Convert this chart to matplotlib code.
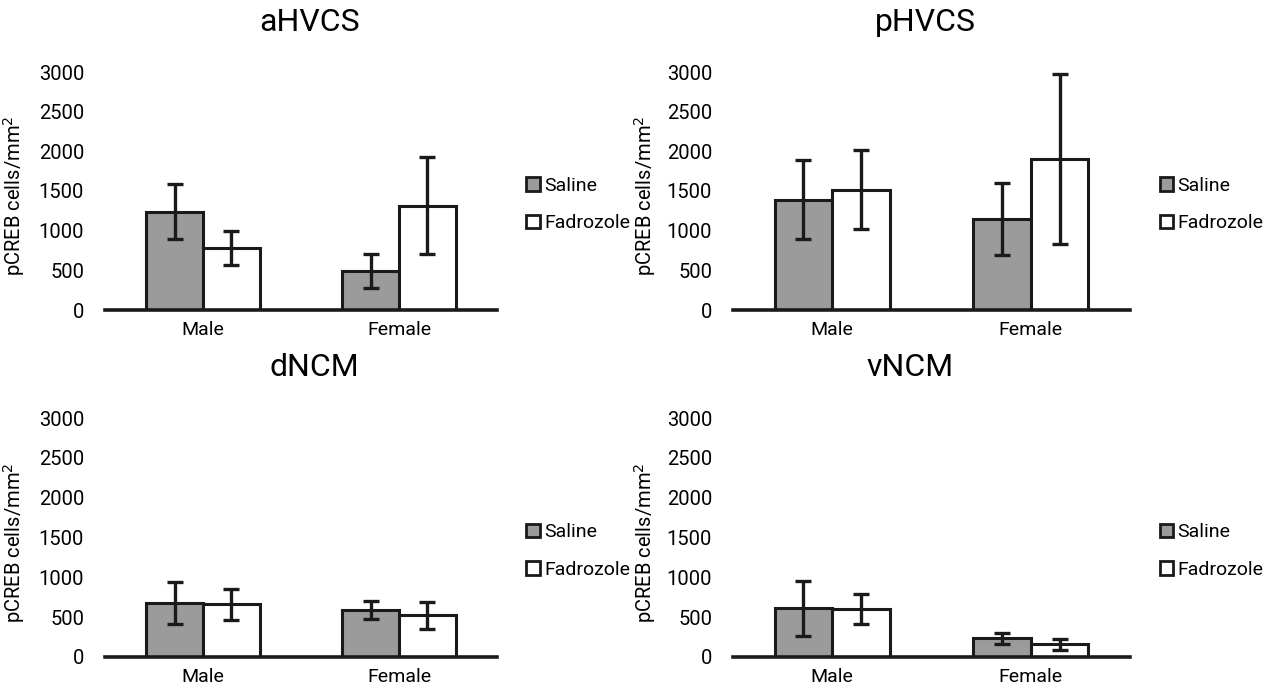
import matplotlib
matplotlib.use("Agg")
import matplotlib.pyplot as plt
from matplotlib.patches import Patch
import numpy as np

plt.rcParams['font.family'] = ['Roboto', 'DejaVu Sans']

categories = ["Male", "Female"]
series = ["Saline", "Fadrozole"]
titles = ["aHVCS", "pHVCS", "dNCM", "vNCM"]

aHVCS_saline = [1240, 490]
aHVCS_saline_err = [347, 218]
aHVCS_fadrozole = [777, 1315]
aHVCS_fadrozole_err = [215, 610]

pHVCS_saline = [1390, 1145]
pHVCS_saline_err = [500, 455]
pHVCS_fadrozole = [1515, 1905]
pHVCS_fadrozole_err = [500, 1075]

dNCM_saline = [677, 588]
dNCM_saline_err = [265, 117]
dNCM_fadrozole = [660, 522]
dNCM_fadrozole_err = [190, 170]

vNCM_saline = [610, 234]
vNCM_saline_err = [350, 65]
vNCM_fadrozole = [598, 159]
vNCM_fadrozole_err = [188, 69]

yticks = [0, 500, 1000, 1500, 2000, 2500, 3000]
ylabel = "pCREB cells/mm$^2$"

panels = [
    (aHVCS_saline, aHVCS_saline_err, aHVCS_fadrozole, aHVCS_fadrozole_err),
    (pHVCS_saline, pHVCS_saline_err, pHVCS_fadrozole, pHVCS_fadrozole_err),
    (dNCM_saline, dNCM_saline_err, dNCM_fadrozole, dNCM_fadrozole_err),
    (vNCM_saline, vNCM_saline_err, vNCM_fadrozole, vNCM_fadrozole_err),
]

W, H = 1274, 693
fig = plt.figure(figsize=(W / 100, H / 100), dpi=100)

# axes boxes in pixels: (left, right, top(3000), bottom(0))
boxes = [
    (105, 497, 72, 310),
    (733, 1130, 72, 310),
    (105, 497, 418, 657),
    (733, 1130, 418, 657),
]
title_x = [0.523, 0.484, 0.535, 0.446]
ylabel_x = [-0.20, -0.19, -0.20, -0.19]

gray = "#9b9b9b"
edge = "#1a1a1a"
bw = 0.29
x = np.arange(len(categories))

for i, (box, data) in enumerate(zip(boxes, panels)):
    l, r, t, b = box
    ax = fig.add_axes([l / W, 1 - b / H, (r - l) / W, (b - t) / H])
    s, se, f, fe = data
    ax.bar(x - bw / 2, s, bw, color=gray, edgecolor=edge, linewidth=2.2, zorder=2)
    ax.bar(x + bw / 2, f, bw, color="white", edgecolor=edge, linewidth=2.2, zorder=2)
    ax.errorbar(x - bw / 2, s, yerr=se, fmt="none", ecolor=edge, elinewidth=2.4,
                capsize=5.5, capthick=2.4, zorder=3)
    ax.errorbar(x + bw / 2, f, yerr=fe, fmt="none", ecolor=edge, elinewidth=2.4,
                capsize=5.5, capthick=2.4, zorder=3)
    ax.set_xlim(-0.5, 1.5)
    ax.set_ylim(0, 3000)
    ax.set_yticks(yticks)
    ax.set_yticklabels([str(v) for v in yticks], fontsize=14.5)
    ax.set_xticks(x)
    ax.set_xticklabels(categories, fontsize=14)
    ax.tick_params(axis="y", length=0, pad=15, colors="black")
    ax.tick_params(axis="x", length=0, pad=8, colors="black")
    for sp in ["left", "right", "top"]:
        ax.spines[sp].set_visible(False)
    ax.spines["bottom"].set_linewidth(2.6)
    ax.spines["bottom"].set_color(edge)
    ax.spines["bottom"].set_zorder(4)
    ax.set_ylabel(ylabel, fontsize=14.5)
    ax.yaxis.set_label_coords(ylabel_x[i], 0.48)
    ax.text(title_x[i], 1.21, titles[i], transform=ax.transAxes, ha="center",
            va="center", fontsize=23)
    handles = [Patch(facecolor=gray, edgecolor=edge, linewidth=2.0),
               Patch(facecolor="white", edgecolor=edge, linewidth=2.0)]
    ax.legend(handles, series, loc="center left", bbox_to_anchor=(1.075, 0.443),
              frameon=False, fontsize=14, handlelength=0.7, handleheight=0.7,
              handletextpad=0.2, labelspacing=1.0, borderpad=0, borderaxespad=0)

fig.savefig("out.png", dpi=100)
